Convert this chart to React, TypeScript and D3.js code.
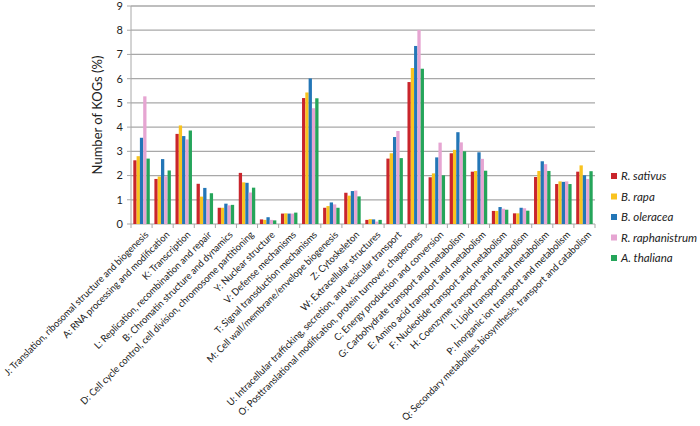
import React from 'react';
import * as d3 from 'd3';

const categories = [
  'J: Translation, ribosomal structure and biogenesis',
  'A: RNA processing and modification',
  'K: Transcription',
  'L: Replication, recombination and repair',
  'B: Chromatin structure and dynamics',
  'D: Cell cycle control, cell division, chromosome partitioning',
  'Y: Nuclear structure',
  'V: Defense mechanisms',
  'T: Signal transduction mechanisms',
  'M: Cell wall/membrane/envelope biogenesis',
  'Z: Cytoskeleton',
  'W: Extracellular structures',
  'U: Intracellular trafficking, secretion, and vesicular transport',
  'O: Posttranslational modification, protein turnover, chaperones',
  'C: Energy production and conversion',
  'G: Carbohydrate transport and metabolism',
  'E: Amino acid transport and metabolism',
  'F: Nucleotide transport and metabolism',
  'H: Coenzyme transport and metabolism',
  'I: Lipid transport and metabolism',
  'P: Inorganic ion transport and metabolism',
  'Q: Secondary metabolites biosynthesis, transport and catabolism',
];

const species = ['R. sativus', 'B. rapa', 'B. oleracea', 'R. raphanistrum', 'A. thaliana'];
const colors = ['#c9252c', '#f9c31f', '#2376b7', '#e6a5d2', '#25a55a'];

const rSativus = [2.63, 1.86, 3.72, 1.66, 0.67, 2.11, 0.19, 0.43, 5.2, 0.67, 1.29, 0.17, 2.7, 5.86, 1.93, 2.92, 2.16, 0.54, 0.44, 1.94, 1.65, 2.16];
const bRapa = [2.8, 1.96, 4.07, 1.13, 0.67, 1.72, 0.17, 0.44, 5.43, 0.74, 1.17, 0.2, 2.92, 6.44, 2.09, 3.06, 2.19, 0.54, 0.44, 2.19, 1.76, 2.42];
const bOleracea = [3.56, 2.68, 3.63, 1.49, 0.84, 1.7, 0.28, 0.43, 6.01, 0.89, 1.36, 0.19, 3.59, 7.35, 2.75, 3.79, 2.96, 0.7, 0.67, 2.59, 1.74, 2.01];
const rRaphanistrum = [5.27, 1.97, 3.49, 1.0, 0.77, 1.3, 0.17, 0.43, 4.78, 0.81, 1.38, 0.1, 3.84, 8.01, 3.36, 3.37, 2.69, 0.63, 0.65, 2.47, 1.76, 1.86];
const aThaliana = [2.7, 2.21, 3.86, 1.27, 0.79, 1.5, 0.15, 0.47, 5.19, 0.67, 1.14, 0.17, 2.72, 6.41, 2.01, 3.0, 2.2, 0.59, 0.55, 2.19, 1.65, 2.18];
const seriesValues = [rSativus, bRapa, bOleracea, rRaphanistrum, aThaliana];

const yTicks = [0, 1, 2, 3, 4, 5, 6, 7, 8, 9];

const W = 700;
const H = 426;
const left = 131;
const right = 595;
const top = 6;
const bottom = 224;
const font = 'Lato, "Open Sans", sans-serif';

export default function App() {
  const x = d3.scaleBand<string>().domain(categories).range([left, right]).paddingInner(0).paddingOuter(0);
  const x1 = d3.scaleBand<string>().domain(species).range([0, x.bandwidth()]).paddingInner(0).paddingOuter(0.7);
  const y = d3.scaleLinear().domain([0, 9]).range([bottom, top]);

  return (
    <div style={{ position: 'absolute', left: 0, top: 0 }}>
      <svg width={W} height={H} style={{ display: 'block', background: '#fff' }}>
        {/* gridlines */}
        {yTicks.map(t => (
          <g key={t}>
            {t > 0 && <line x1={left} x2={right} y1={y(t)} y2={y(t)} stroke="#a8a8a8" strokeWidth={1.3} />}
            <line x1={left - 4} x2={left} y1={y(t)} y2={y(t)} stroke="#a8a8a8" strokeWidth={1} />
            <text x={left - 8} y={y(t)} dy="0.35em" textAnchor="end" fontFamily={font} fontSize={11} fill="#222">{t}</text>
          </g>
        ))}
        <line x1={left} x2={left} y1={top} y2={bottom} stroke="#a8a8a8" strokeWidth={1} />
        <line x1={left} x2={right} y1={bottom} y2={bottom} stroke="#a8a8a8" strokeWidth={1} />
        {categories.map((c, i) => (
          <line key={'t' + i} x1={(x(c) as number) + x.bandwidth()} x2={(x(c) as number) + x.bandwidth()} y1={bottom} y2={bottom + 4} stroke="#a8a8a8" />
        ))}
        <line x1={left} x2={left} y1={bottom} y2={bottom + 4} stroke="#a8a8a8" />

        {/* bars */}
        {categories.map((c, i) => (
          <g key={c} transform={`translate(${x(c)},0)`}>
            {species.map((s, j) => {
              const v = seriesValues[j][i];
              return (
                <rect key={s} x={x1(s)} y={y(v)} width={x1.bandwidth()} height={bottom - y(v)} fill={colors[j]} />
              );
            })}
          </g>
        ))}

        {/* category labels */}
        {categories.map(c => {
          const cx = (x(c) as number) + x.bandwidth() / 2 + 5;
          return (
            <text key={'l' + c} transform={`translate(${cx},${bottom + 9}) rotate(-45) scale(0.95,1)`} textAnchor="end" dy="0.35em"
              fontFamily={font} fontSize={9.8} fill="#222">{c}</text>
          );
        })}

        {/* y title */}
        <text transform={`translate(97,${(top + bottom) / 2}) rotate(-90)`} textAnchor="middle" dy="0.35em"
          fontFamily={font} fontSize={13} fill="#222">Number of KOGs (%)</text>

        {/* legend */}
        {species.map((s, j) => (
          <g key={'lg' + s} transform={`translate(611,${176 + j * 20.5})`}>
            <rect x={0} y={-3} width={6} height={6} fill={colors[j]} />
            <text x={10} y={0} dy="0.35em" fontFamily={font} fontSize={11.5} fontStyle="italic" fill="#222">{s}</text>
          </g>
        ))}
      </svg>
    </div>
  );
}
